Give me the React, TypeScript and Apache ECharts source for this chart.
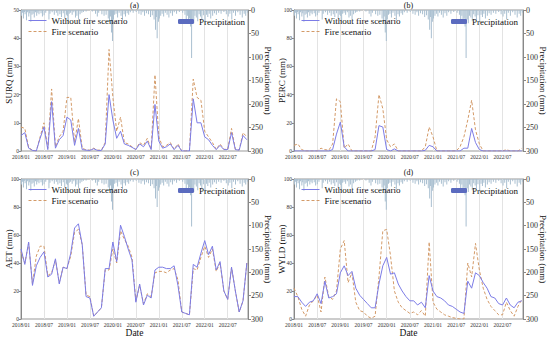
import React, { useEffect, useRef } from "react";
import * as echarts from "echarts";

const months = Array.from({ length: 60 }, (_, i) => i); // 2018/01 .. 2022/12 as month index

const surqNoFire = [5.5, 6.5, 1, 0.2, 0, 4.5, 8.5, 0.5, 17.5, 1, 4, 5.5, 12, 11, 2, 8, 0.5, 0.3, 0.2, 0.8, 0.2, 0.2, 2.5, 20, 11, 4.5, 7, 2.5, 2, 1.3, 0.5, 2.5, 1.5, 3.5, 0.5, 16.5, 3.5, 1, 1.5, 2.5, 0.5, 2, 0, 0, 0, 18.5, 10, 10, 5, 4, 2, 0.5, 2, 0.5, 0.5, 6.5, 0.5, 0.3, 5.5, 4];
const surqFire = [8.5, 8, 1.2, 0.3, 0, 5, 10, 1, 22, 1.5, 5, 7, 19, 19, 3, 11.5, 1, 0.4, 0.3, 1, 0.3, 0.3, 3, 36, 19, 7, 12, 3, 2.5, 1.5, 0.6, 3, 2, 4.5, 0.6, 27, 5, 1.5, 2, 3, 0.6, 2.5, 0, 0, 0.2, 25.5, 19, 18, 7, 5, 3, 0.6, 2.5, 0.6, 0.6, 8, 0.6, 0.4, 6.5, 5];

const percNoFire = [0, 0, 0, 0, 0, 0, 0, 0, 0, 0, 1, 12, 20.5, 3, 0, 0, 0, 0, 0, 0, 0, 1, 18, 17, 1, 0, 1.5, 0, 0, 0, 0, 0, 0, 0, 0.5, 4, 3, 0, 0, 0, 0, 0, 0, 0, 2, 2, 16, 6, 1, 0, 0, 0, 0, 0, 0, 0, 0, 0, 0, 0];
const percFire = [4, 5, 1, 0, 0, 0, 0, 2, 1, 0.5, 5, 37, 35, 2, 5, 0, 0, 0, 0, 0, 0, 10, 40, 30, 8, 3, 5, 0, 0, 0, 0, 0, 0, 0, 3, 17, 10, 0, 0, 0, 0, 0, 0, 3, 10, 22, 36, 15, 5, 0, 0, 0, 0, 0, 0, 1, 0, 0, 0, 2];

const aetNoFire = [50, 39, 55, 24, 38, 44, 48, 30, 32, 43, 25, 37, 36, 47, 65, 68, 53, 16, 15, 2, 5, 8, 36, 36, 55, 41, 67, 59, 50, 42, 12, 25, 10, 17, 15, 35, 37, 37, 36, 36, 38, 24, 5, 4, 3, 39, 37, 47, 56, 46, 52, 35, 41, 20, 14, 37, 20, 5, 13, 40];
const aetFire = [48, 40, 54, 25, 45, 52, 52, 31, 33, 42, 26, 37, 36, 45, 62, 64, 53, 17, 16, 2, 5, 8, 35, 35, 50, 40, 63, 57, 52, 44, 13, 24, 11, 18, 16, 33, 34, 34, 33, 35, 36, 28, 5, 4, 3, 36, 35, 44, 52, 44, 50, 34, 40, 20, 14, 37, 20, 5, 13, 40];

const wyldNoFire = [16, 16, 12, 9, 12, 13, 18, 11, 27, 15, 16, 18, 33, 38, 31, 34, 22, 17, 14, 11, 8, 8, 25, 38, 44, 32, 33, 25, 20, 16, 13, 13, 10, 12, 8, 31, 20, 16, 15, 13, 10, 9, 7, 5, 4, 27, 22, 33, 31, 26, 22, 16, 15, 11, 10, 15, 10, 8, 12, 13];
const wyldFire = [22, 16, 7, 2, 10, 13, 17, 5, 30, 16, 14, 20, 50, 56, 26, 33, 12, 6, 5, 2, 0.5, 2, 30, 63, 64, 45, 20, 12, 8, 6, 4, 5, 3, 6, 2, 55, 12, 7, 5, 3, 2, 1, 0.5, 0, 0, 40, 30, 54, 35, 22, 14, 9, 6, 3, 3, 12, 6, 2, 9, 14];

const rainDates = [
  "2018-01-05", "2018-01-12", "2018-01-20", "2018-01-28", "2018-02-03", "2018-02-14", "2018-02-21", "2018-03-02", "2018-03-09", "2018-03-18", "2018-03-27", "2018-04-06", "2018-04-15", "2018-04-24", "2018-05-04", "2018-05-13", "2018-05-22", "2018-06-08", "2018-06-19", "2018-07-02", "2018-07-15", "2018-08-10", "2018-08-18", "2018-09-05", "2018-09-22", "2018-10-08", "2018-10-20", "2018-11-06", "2018-11-18", "2018-12-02", "2018-12-14", "2018-12-27",
  "2019-01-04", "2019-01-11", "2019-01-19", "2019-01-30", "2019-02-12", "2019-02-25", "2019-03-08", "2019-03-19", "2019-04-02", "2019-04-14", "2019-04-28", "2019-05-10", "2019-06-01", "2019-07-20", "2019-08-15", "2019-08-29", "2019-09-10", "2019-10-05", "2019-10-22", "2019-11-08", "2019-11-25", "2019-12-05", "2019-12-12", "2019-12-20", "2019-12-28",
  "2020-01-06", "2020-01-15", "2020-01-26", "2020-02-08", "2020-02-20", "2020-03-05", "2020-03-16", "2020-03-29", "2020-04-10", "2020-04-23", "2020-05-05", "2020-05-18", "2020-06-10", "2020-07-04", "2020-07-25", "2020-08-12", "2020-08-26", "2020-09-09", "2020-09-24", "2020-10-10", "2020-10-26", "2020-11-10", "2020-11-24", "2020-12-05", "2020-12-12", "2020-12-18", "2020-12-28",
  "2021-01-05", "2021-01-16", "2021-01-27", "2021-02-09", "2021-02-22", "2021-03-06", "2021-03-20", "2021-04-04", "2021-04-18", "2021-05-02", "2021-05-20", "2021-06-12", "2021-07-08", "2021-07-26", "2021-08-06", "2021-08-15", "2021-08-24", "2021-09-02", "2021-09-10", "2021-09-18", "2021-09-27", "2021-10-05", "2021-10-14", "2021-10-25", "2021-11-06", "2021-11-17", "2021-11-28", "2021-12-08", "2021-12-20",
  "2022-01-04", "2022-01-14", "2022-01-25", "2022-02-06", "2022-02-18", "2022-03-03", "2022-03-17", "2022-04-02", "2022-04-20", "2022-05-09", "2022-06-01", "2022-06-20", "2022-07-05", "2022-07-18", "2022-08-03", "2022-08-16", "2022-09-02", "2022-09-20", "2022-10-08", "2022-10-25", "2022-11-10", "2022-11-22", "2022-12-05",
];
const rainValues = [
  12, 6, 18, 4, 9, 22, 5, 14, 7, 25, 10, 8, 16, 5, 12, 6, 9, 7, 14, 11, 6, 20, 8, 5, 10, 6, 12, 9, 15, 7, 18, 10,
  13, 24, 8, 6, 10, 5, 16, 12, 20, 9, 6, 4, 3, 3, 8, 14, 6, 9, 12, 10, 18, 25, 14, 48, 66,
  20, 10, 8, 16, 6, 12, 22, 9, 14, 7, 10, 5, 6, 4, 8, 10, 5, 12, 7, 9, 15, 11, 20, 42, 15, 60, 25,
  18, 12, 8, 14, 6, 10, 16, 7, 12, 5, 8, 4, 6, 10, 22, 12, 30, 18, 35, 102, 20, 28, 12, 16, 24, 9, 14, 20, 11,
  26, 10, 15, 8, 18, 12, 7, 10, 6, 8, 4, 9, 14, 8, 20, 6, 12, 5, 10, 16, 8, 12, 6,
];

const panelLetters = ["(a)", "(b)", "(c)", "(d)"];
const yNames = ["SURQ (mm)", "PERC (mm)", "AET (mm)", "WYLD (mm)"];
const yMax = [50, 100, 100, 100];
const yInterval = [10, 20, 20, 20];
const noFireSets = [surqNoFire, percNoFire, aetNoFire, wyldNoFire];
const fireSets = [surqFire, percFire, aetFire, wyldFire];

const FONT = "Liberation Serif";
const BLUE = "#7c7ce6";
const ORANGE = "#d39a68";

function dateToMonthIndex(d: string) {
  const [y, m, day] = d.split("-").map(Number);
  return (y - 2018) * 12 + (m - 1) + (day - 1) / 30;
}

export default function App() {
  const ref = useRef<HTMLDivElement>(null);
  useEffect(() => {
    if (!ref.current) return;
    const chart = echarts.init(ref.current, undefined, { renderer: "svg" });
    const grids = [
      { left: 21, top: 10, width: 227, height: 141 },
      { left: 294, top: 10, width: 229, height: 141 },
      { left: 21, top: 179, width: 227, height: 140 },
      { left: 294, top: 179, width: 229, height: 140 },
    ];
    const rain = rainDates.map((d, i) => [dateToMonthIndex(d), rainValues[i]]);
    const xAxes: any[] = [];
    const yAxes: any[] = [];
    const series: any[] = [];
    const legends: any[] = [];
    const graphics: any[] = [];
    grids.forEach((g, k) => {
      xAxes.push({
        type: "value",
        gridIndex: k,
        min: 0,
        max: 59.3,
        interval: 6,
        axisLine: { show: false },
        axisTick: { show: false },
        splitLine: { show: true, lineStyle: { color: "#e3e3e3", width: 1 } },
        axisLabel: {
          fontFamily: FONT,
          fontSize: 5.5,
          color: "#333",
          margin: 3,
          showMaxLabel: false,
          formatter: (v: number) => {
            if (Math.abs(v % 6) > 0.01) return "";
            const y = 2018 + Math.floor(v / 12);
            const m = (v % 12) + 1;
            return y + "/" + (m < 10 ? "0" + m : m);
          },
        },
      });
      yAxes.push({
        type: "value",
        gridIndex: k,
        min: 0,
        max: yMax[k],
        interval: yInterval[k],
        axisLine: { show: true, lineStyle: { color: "#888" } },
        axisTick: { show: true, length: 2, lineStyle: { color: "#888" } },
        splitLine: { show: false },
        axisLabel: { fontFamily: FONT, fontSize: 5.5, color: "#333", margin: 2 },
      });
      yAxes.push({
        type: "value",
        gridIndex: k,
        position: "right",
        inverse: true,
        min: 0,
        max: 300,
        interval: 50,
        axisLine: { show: true, lineStyle: { color: "#888" } },
        axisTick: { show: true, length: 3, lineStyle: { color: "#888" } },
        splitLine: { show: false },
        axisLabel: { fontFamily: FONT, fontSize: 8, color: "#333", margin: 3 },
      });
      series.push({
        name: "Precipitation",
        type: "bar",
        xAxisIndex: k,
        yAxisIndex: 2 * k + 1,
        barWidth: 0.8,
        itemStyle: { color: "#a9bfd0" },
        data: rain,
        z: 1,
      });
      series.push({
        name: "Without fire scenario",
        type: "line",
        xAxisIndex: k,
        yAxisIndex: 2 * k,
        symbol: "none",
        lineStyle: { color: BLUE, width: 1 },
        itemStyle: { color: BLUE },
        data: months.map((m) => [m, noFireSets[k][m]]),
        z: 3,
      });
      series.push({
        name: "Fire scenario",
        type: "line",
        xAxisIndex: k,
        yAxisIndex: 2 * k,
        symbol: "none",
        lineStyle: { color: ORANGE, width: 1, type: [3, 2] },
        itemStyle: { color: ORANGE },
        data: months.map((m) => [m, fireSets[k][m]]),
        z: 2,
      });
      legends.push({
        orient: "vertical",
        left: g.left + 7,
        top: g.top + 6,
        itemWidth: 18,
        itemHeight: 8,
        itemGap: 2,
        padding: 0,
        itemStyle: { opacity: 0 },
        lineStyle: { width: 1 },
        textStyle: { fontFamily: FONT, fontSize: 9, color: "#111" },
        data: ["Without fire scenario", "Fire scenario"],
      });
      legends.push({
        orient: "vertical",
        left: g.left + 157,
        top: g.top + 7,
        itemWidth: 16,
        itemHeight: 5,
        padding: 0,
        textStyle: { fontFamily: FONT, fontSize: 9, color: "#111" },
        data: [{ name: "Precipitation", itemStyle: { color: "#5b6bbf" } }],
      });
      const cx = g.left + g.width / 2;
      graphics.push({
        type: "text",
        x: cx,
        y: k < 2 ? 5 : 172,
        style: { text: panelLetters[k], font: `8px "${FONT}"`, fill: "#111", textAlign: "center", textVerticalAlign: "middle" },
      });
      graphics.push({
        type: "text",
        x: g.left - 12,
        y: g.top + g.height / 2,
        rotation: Math.PI / 2,
        style: { text: yNames[k], font: `9px "${FONT}"`, fill: "#111", textAlign: "center", textVerticalAlign: "middle" },
      });
      graphics.push({
        type: "text",
        x: g.left + g.width + 20,
        y: g.top + g.height / 2,
        rotation: -Math.PI / 2,
        style: { text: "Precipitation (mm)", font: `9px "${FONT}"`, fill: "#111", textAlign: "center", textVerticalAlign: "middle" },
      });
      if (k >= 2) {
        graphics.push({
          type: "text",
          x: cx,
          y: 333,
          style: { text: "Date", font: `9.5px "${FONT}"`, fill: "#111", textAlign: "center", textVerticalAlign: "middle" },
        });
      }
    });
    chart.setOption({
      animation: false,
      backgroundColor: "#fff",
      grid: grids.map((g) => ({ ...g, show: true, borderColor: "#999", borderWidth: 1, backgroundColor: "transparent" })),
      xAxis: xAxes,
      yAxis: yAxes,
      legend: legends,
      series,
      graphic: graphics,
    });
    return () => chart.dispose();
  }, []);
  return <div ref={ref} style={{ position: "fixed", left: 0, top: 0, width: 550, height: 339 }} />;
}
